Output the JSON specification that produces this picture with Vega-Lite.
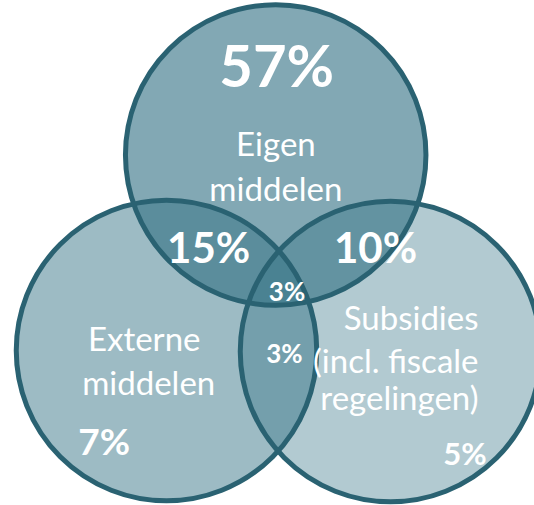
{
  "$schema": "https://vega.github.io/schema/vega-lite/v6.json",
  "autosize": "none",
  "width": 534,
  "height": 505,
  "padding": 0,
  "background": "white",
  "view": {"stroke": null},
  "datasets": {
    "circles": [
      {"set": "Eigen middelen", "cx": 275.7, "cy": 155, "alpha": 0.6},
      {"set": "Externe middelen", "cx": 166.5, "cy": 350.5, "alpha": 0.47},
      {"set": "Subsidies", "cx": 390.5, "cy": 351.5, "alpha": 0.37}
    ],
    "labels": [
      {"text": "57%", "tx": 276.7, "ty": 86.9, "kind": "big"},
      {"text": "15%", "tx": 208.6, "ty": 263, "kind": "mid"},
      {"text": "10%", "tx": 375.5, "ty": 263, "kind": "mid"},
      {"text": "3%", "tx": 287, "ty": 301, "kind": "small"},
      {"text": "3%", "tx": 284.4, "ty": 362.7, "kind": "small"},
      {"text": "7%", "tx": 104.2, "ty": 454.7, "kind": "seven"},
      {"text": "5%", "tx": 465, "ty": 465, "kind": "five"}
    ],
    "names": [
      {"text": "Eigen", "tx": 275.9, "ty": 156},
      {"text": "middelen", "tx": 275.9, "ty": 201},
      {"text": "Externe", "tx": 144.2, "ty": 350.8},
      {"text": "middelen", "tx": 148.7, "ty": 395}
    ],
    "rightnames": [
      {"text": "Subsidies", "tx": 478.5, "ty": 330},
      {"text": "(incl. fiscale", "tx": 478.5, "ty": 373},
      {"text": "regelingen)", "tx": 478.5, "ty": 410}
    ]
  },
  "encoding": {
    "x": {"type": "quantitative", "scale": {"domain": [0, 534], "nice": false, "zero": false}, "axis": null},
    "y": {"type": "quantitative", "scale": {"domain": [0, 505], "nice": false, "zero": false, "reverse": true}, "axis": null}
  },
  "layer": [
    {
      "data": {"name": "circles"},
      "mark": {"type": "point", "shape": "circle", "filled": true, "size": 90300, "color": "#2e6e82", "strokeWidth": 0},
      "encoding": {
        "x": {"field": "cx", "type": "quantitative"},
        "y": {"field": "cy", "type": "quantitative"},
        "opacity": {"field": "alpha", "type": "quantitative", "scale": null, "legend": null}
      }
    },
    {
      "data": {"name": "circles"},
      "mark": {"type": "point", "shape": "circle", "filled": false, "size": 90300, "stroke": "#2a6272", "strokeWidth": 5, "opacity": 1},
      "encoding": {
        "x": {"field": "cx", "type": "quantitative"},
        "y": {"field": "cy", "type": "quantitative"}
      }
    },
    {
      "data": {"name": "labels"},
      "transform": [{"filter": "datum.kind === 'big'"}],
      "mark": {"type": "text", "font": "Lato", "fontWeight": "bold", "fontSize": 58, "color": "white", "align": "center", "baseline": "alphabetic"},
      "encoding": {"x": {"field": "tx", "type": "quantitative"}, "y": {"field": "ty", "type": "quantitative"}, "text": {"field": "text"}}
    },
    {
      "data": {"name": "labels"},
      "transform": [{"filter": "datum.kind === 'mid'"}],
      "mark": {"type": "text", "font": "Lato", "fontWeight": "bold", "fontSize": 42, "color": "white", "align": "center", "baseline": "alphabetic"},
      "encoding": {"x": {"field": "tx", "type": "quantitative"}, "y": {"field": "ty", "type": "quantitative"}, "text": {"field": "text"}}
    },
    {
      "data": {"name": "labels"},
      "transform": [{"filter": "datum.kind === 'small'"}],
      "mark": {"type": "text", "font": "Lato", "fontWeight": "bold", "fontSize": 26, "color": "white", "align": "center", "baseline": "alphabetic"},
      "encoding": {"x": {"field": "tx", "type": "quantitative"}, "y": {"field": "ty", "type": "quantitative"}, "text": {"field": "text"}}
    },
    {
      "data": {"name": "labels"},
      "transform": [{"filter": "datum.kind === 'seven'"}],
      "mark": {"type": "text", "font": "Lato", "fontWeight": "bold", "fontSize": 37, "color": "white", "align": "center", "baseline": "alphabetic"},
      "encoding": {"x": {"field": "tx", "type": "quantitative"}, "y": {"field": "ty", "type": "quantitative"}, "text": {"field": "text"}}
    },
    {
      "data": {"name": "labels"},
      "transform": [{"filter": "datum.kind === 'five'"}],
      "mark": {"type": "text", "font": "Lato", "fontWeight": "bold", "fontSize": 31, "color": "white", "align": "center", "baseline": "alphabetic"},
      "encoding": {"x": {"field": "tx", "type": "quantitative"}, "y": {"field": "ty", "type": "quantitative"}, "text": {"field": "text"}}
    },
    {
      "data": {"name": "names"},
      "mark": {"type": "text", "font": "Lato", "fontSize": 33, "color": "white", "align": "center", "baseline": "alphabetic"},
      "encoding": {"x": {"field": "tx", "type": "quantitative"}, "y": {"field": "ty", "type": "quantitative"}, "text": {"field": "text"}}
    },
    {
      "data": {"name": "rightnames"},
      "mark": {"type": "text", "font": "Lato", "fontSize": 33, "color": "white", "align": "right", "baseline": "alphabetic"},
      "encoding": {"x": {"field": "tx", "type": "quantitative"}, "y": {"field": "ty", "type": "quantitative"}, "text": {"field": "text"}}
    }
  ]
}
